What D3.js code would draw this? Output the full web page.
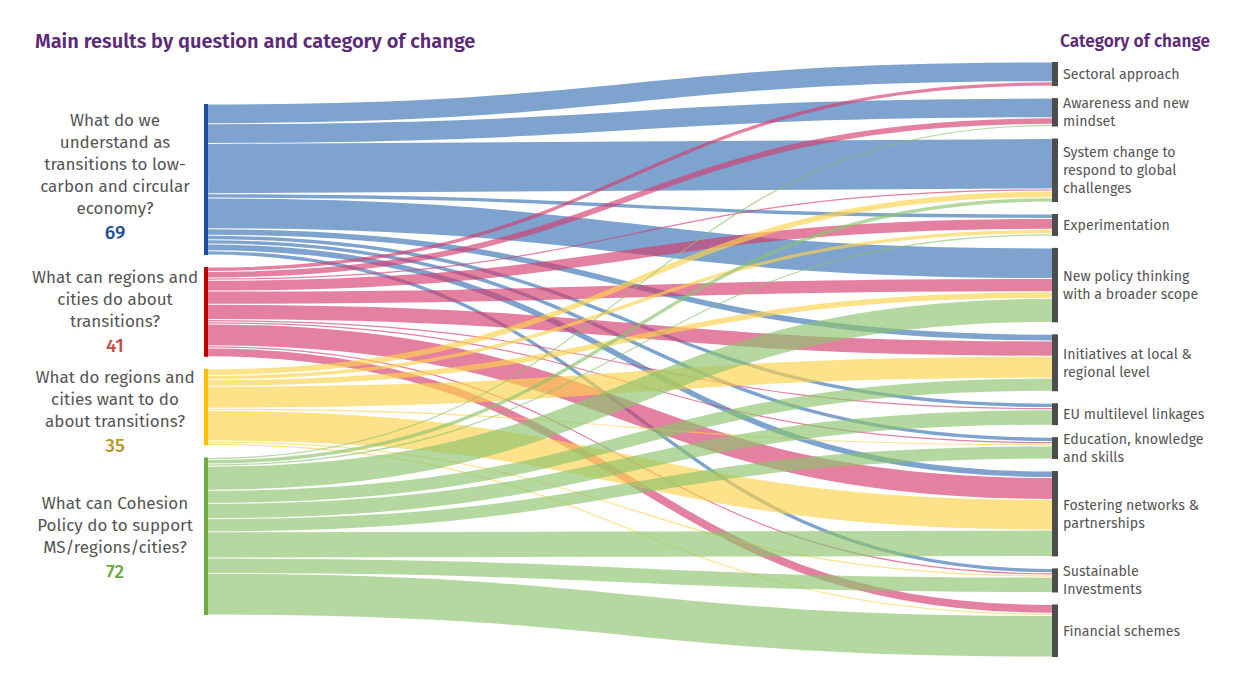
<!DOCTYPE html>
<html><head><meta charset="utf-8">
<script src="https://cdn.jsdelivr.net/npm/d3@7"></script>
<style>
body{margin:0;background:#fff;}
svg{display:block;}
text{font-family:"Fira Sans",Lato,"Open Sans",sans-serif;}
</style>
</head><body>
<svg id="chart" width="1240" height="676"></svg>
<script>
// ---------- DATA ----------
const questionLines = [
  ["What do we", "understand as", "transitions to low-", "carbon and circular", "economy?"],
  ["What can regions and", "cities do about", "transitions?"],
  ["What do regions and", "cities want to do", "about transitions?"],
  ["What can Cohesion", "Policy do to support", "MS/regions/cities?"]
];
const questionTotals = [69, 41, 35, 72];
const categoryLines = [
  ["Sectoral approach"],
  ["Awareness and new", "mindset"],
  ["System change to", "respond to global", "challenges"],
  ["Experimentation"],
  ["New policy thinking", "with a broader scope"],
  ["Initiatives at local &", "regional level"],
  ["EU multilevel linkages"],
  ["Education, knowledge", "and skills"],
  ["Fostering networks &", "partnerships"],
  ["Sustainable", "Investments"],
  ["Financial schemes"]
];
// values of each question flowing to each category (same order as categoryLines)
const q1Values = [9, 9, 23, 2, 14, 3, 2, 2, 3, 2, 0];
const q2Values = [2, 3, 1, 5, 6, 7, 1, 1, 10, 1, 4];
const q3Values = [0, 0, 3, 2, 3, 10, 0, 1, 14, 1, 1];
const q4Values = [0, 1, 2, 1, 11, 6, 7, 6, 12, 7, 19];
const flowValues = [q1Values, q2Values, q3Values, q4Values];

const titleText = "Main results by question and category of change";
const rightTitleText = "Category of change";

// ---------- STYLE ----------
const linkColors = ["#3771b4", "#d53c6d", "#fed24b", "#8cc36d"];
const linkOpacity = 0.65;
const nodeColors = ["#1f4e9e", "#c00000", "#ffc000", "#6fae45"];
const numberColors = ["#23509c", "#c0504d", "#b8972c", "#6aab3f"];
const purple = "#5b2a7a";
const textGray = "#555555";
const labelShift = [-3, 0, 4, 1];

// ---------- LAYOUT ----------
const svg = d3.select("#chart");
const yTop = 62, yBottom = 657, pad = 12;
const xLeft0 = 204, xLeft1 = 208, xRight0 = 1052, xRight1 = 1058;
const total = d3.sum(questionTotals);
const nMax = Math.max(questionTotals.length, categoryLines.length);
const ky = d3.scaleLinear().domain([0, total]).range([0, (yBottom - yTop) - (nMax - 1) * pad]);
const centerY = (yTop + yBottom) / 2;

const catTotals = categoryLines.map((_, j) => d3.sum(flowValues, r => r[j]));

function stackColumn(values) {
  const h = ky(d3.sum(values)) + (values.length - 1) * pad;
  let y = centerY - h / 2;
  return values.map(v => { const n = {y0: y, y1: y + ky(v)}; y = n.y1 + pad; return n; });
}
const srcNodes = stackColumn(questionTotals);
const tgtNodes = stackColumn(catTotals);

// links
const links = [];
const srcOff = srcNodes.map(n => n.y0);
const tgtOff = tgtNodes.map(n => n.y0);
flowValues.forEach((row, i) => {
  row.forEach((v, j) => { if (v > 0) links.push({i, j, v, w: ky(v)}); });
});
const bySrc = d3.group(links, d => d.i);
bySrc.forEach(arr => arr.slice().sort((a,b)=>a.j-b.j).forEach(l => { l.ys = srcOff[l.i] + l.w/2; srcOff[l.i] += l.w; }));
const byTgt = d3.group(links, d => d.j);
byTgt.forEach(arr => arr.slice().sort((a,b)=>a.i-b.i).forEach(l => { l.yt = tgtOff[l.j] + l.w/2; tgtOff[l.j] += l.w; }));

const linkGen = d3.linkHorizontal();
svg.append("g").selectAll("path").data(links).join("path")
  .attr("d", l => linkGen({source: [xLeft1, l.ys], target: [xRight0, l.yt]}))
  .attr("fill", "none")
  .attr("stroke", l => linkColors[l.i])
  .attr("stroke-opacity", linkOpacity)
  .attr("stroke-width", l => Math.max(0.8, l.w - 1));

// nodes
svg.append("g").selectAll("rect").data(srcNodes).join("rect")
  .attr("x", xLeft0).attr("width", xLeft1 - xLeft0)
  .attr("y", d => d.y0).attr("height", d => d.y1 - d.y0)
  .attr("fill", (d, i) => nodeColors[i]);
svg.append("g").selectAll("rect").data(tgtNodes).join("rect")
  .attr("x", xRight0).attr("width", xRight1 - xRight0)
  .attr("y", d => d.y0).attr("height", d => d.y1 - d.y0)
  .attr("fill", "#4d4d4d");

// left labels
const lStep = 22, numStep = 25, capH = 12;
srcNodes.forEach((n, i) => {
  const lines = questionLines[i];
  const cy = (n.y0 + n.y1) / 2 + labelShift[i];
  const H = capH + (lines.length - 1) * lStep + numStep;
  const b0 = cy - H / 2 + capH;
  const t = svg.append("text").attr("text-anchor", "middle").attr("font-size", 17).attr("fill", textGray);
  lines.forEach((s, k) => t.append("tspan").attr("x", 115).attr("y", b0 + k * lStep).text(s));
  svg.append("text").attr("text-anchor", "middle").attr("x", 115)
    .attr("y", b0 + (lines.length - 1) * lStep + numStep)
    .attr("font-size", 19).attr("font-weight", 500).attr("fill", numberColors[i])
    .text(questionTotals[i]);
});

// right labels
const rStep = 18;
tgtNodes.forEach((n, j) => {
  const lines = categoryLines[j];
  const cy = (n.y0 + n.y1) / 2;
  const b0 = cy - (lines.length - 1) * rStep / 2 + 5;
  const t = svg.append("text").attr("font-size", 14.2).attr("fill", textGray);
  lines.forEach((s, k) => t.append("tspan").attr("x", 1063).attr("y", b0 + k * rStep).text(s));
});

// titles
svg.append("text").attr("x", 35).attr("y", 48).attr("font-size", 20).attr("font-weight", 600)
  .attr("fill", purple).text(titleText);
svg.append("text").attr("x", 1060).attr("y", 47).attr("font-size", 17.2).attr("font-weight", 600)
  .attr("fill", purple).text(rightTitleText);
</script>
</body></html>
